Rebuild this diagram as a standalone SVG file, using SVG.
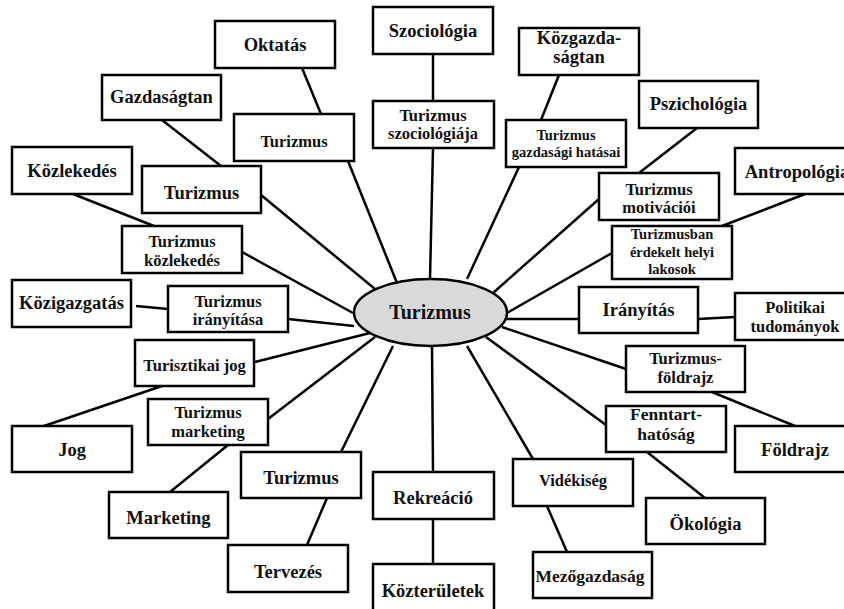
<svg xmlns="http://www.w3.org/2000/svg" width="844" height="609" viewBox="0 0 844 609">
<style>
.box{fill:#fff;stroke:#000;stroke-width:2.5}
.hub{fill:#d9d9d9;stroke:#000;stroke-width:2.5}
.c line{stroke:#000;stroke-width:2.5}
text{font-family:"Liberation Serif","Times New Roman",serif;font-weight:bold;text-anchor:middle;fill:#111}
.o{font-size:18.5px}
.i{font-size:16.5px}
.s{font-size:14.5px}
.m{font-size:17.5px}
.h{font-size:20px}
</style>
<rect width="844" height="609" fill="#fff"/>
<g id="connectors" class="c">
<line x1="433" y1="54" x2="433" y2="101"/>
<line x1="433" y1="148" x2="430" y2="279"/>
<line x1="559" y1="75" x2="541" y2="120"/>
<line x1="519" y1="167" x2="467" y2="279"/>
<line x1="697" y1="128" x2="639" y2="173"/>
<line x1="599" y1="199" x2="493" y2="293"/>
<line x1="805" y1="194" x2="722" y2="226"/>
<line x1="612" y1="253" x2="507" y2="313"/>
<line x1="506" y1="319" x2="579" y2="319"/>
<line x1="698" y1="319" x2="735" y2="317"/>
<line x1="502" y1="327" x2="626" y2="369"/>
<line x1="712" y1="392" x2="795" y2="426"/>
<line x1="486" y1="337" x2="606" y2="425"/>
<line x1="647" y1="452" x2="705" y2="498"/>
<line x1="467" y1="346" x2="533" y2="459"/>
<line x1="547" y1="506" x2="567" y2="552"/>
<line x1="432" y1="346" x2="433" y2="472"/>
<line x1="433" y1="519" x2="433" y2="564"/>
<line x1="393" y1="346" x2="341" y2="452"/>
<line x1="327" y1="498" x2="307" y2="545"/>
<line x1="375" y1="337" x2="268" y2="419"/>
<line x1="228" y1="445" x2="170" y2="492"/>
<line x1="370" y1="333" x2="255" y2="362"/>
<line x1="162" y1="386" x2="44" y2="426"/>
<line x1="354" y1="326" x2="288" y2="319"/>
<line x1="168" y1="309" x2="136" y2="306"/>
<line x1="353" y1="313" x2="242" y2="252"/>
<line x1="154" y1="226" x2="73" y2="194"/>
<line x1="375" y1="289" x2="261" y2="195"/>
<line x1="221" y1="166" x2="162" y2="120"/>
<line x1="397" y1="283" x2="348" y2="161"/>
<line x1="321" y1="114" x2="302" y2="68"/>
</g>
<g id="hub"><ellipse class="hub" cx="430.5" cy="312.5" rx="76.5" ry="33.5"/><text class="h" x="430" y="319">Turizmus</text></g>
<g id="szociologia"><rect class="box" x="373" y="7" width="120" height="47"/><text class="o" x="433" y="37">Szociológia</text></g>
<g id="oktatas"><rect class="box" x="215" y="21" width="120" height="47"/><text class="o" x="275" y="51">Oktatás</text></g>
<g id="kozgazdasagtan"><rect class="box" x="519" y="28" width="120" height="47"/><text class="o" x="579" y="44">Közgazda-</text><text class="o" x="579" y="63">ságtan</text></g>
<g id="gazdasagtan"><rect class="box" x="102" y="75" width="119" height="45"/><text class="o" x="161.5" y="103">Gazdaságtan</text></g>
<g id="pszichologia"><rect class="box" x="639" y="81" width="119" height="47"/><text class="o" x="698.5" y="110">Pszichológia</text></g>
<g id="kozlekedes"><rect class="box" x="12" y="147" width="120" height="47"/><text class="o" x="72" y="177">Közlekedés</text></g>
<g id="antropologia"><rect class="box" x="735" y="148" width="125" height="46"/><text class="o" x="797" y="178">Antropológia</text></g>
<g id="kozigazgatas"><rect class="box" x="12" y="280" width="119" height="47"/><text class="o" x="71.5" y="309">Közigazgatás</text></g>
<g id="politikai"><rect class="box" x="735" y="293" width="125" height="47"/><text class="i" x="795" y="313">Politikai</text><text class="i" x="795" y="332">tudományok</text></g>
<g id="jog"><rect class="box" x="12" y="426" width="120" height="46"/><text class="o" x="72" y="456">Jog</text></g>
<g id="foldrajz"><rect class="box" x="735" y="426" width="125" height="46"/><text class="o" x="795" y="456">Földrajz</text></g>
<g id="marketing"><rect class="box" x="109" y="492" width="119" height="46"/><text class="o" x="168.5" y="524">Marketing</text></g>
<g id="okologia"><rect class="box" x="646" y="498" width="119" height="46"/><text class="o" x="705.5" y="530">Ökológia</text></g>
<g id="tervezes"><rect class="box" x="228" y="545" width="120" height="47"/><text class="o" x="288" y="578">Tervezés</text></g>
<g id="mezogazdasag"><rect class="box" x="533" y="552" width="119" height="46"/><text class="m" x="590" y="582">Mezőgazdaság</text></g>
<g id="rekreacio"><rect class="box" x="373" y="472" width="121" height="47"/><text class="o" x="433" y="504">Rekreáció</text></g>
<g id="kozteruletek"><rect class="box" x="373" y="564" width="121" height="52"/><text class="o" x="433" y="597">Közterületek</text></g>
<g id="turizmus-szociologiaja"><rect class="box" x="373" y="101" width="121" height="47"/><text class="i" x="433" y="121">Turizmus</text><text class="i" x="433" y="139">szociológiája</text></g>
<g id="turizmus-oktatas"><rect class="box" x="234" y="114" width="120" height="47"/><text class="i" x="294" y="147">Turizmus</text></g>
<g id="turizmus-gazdasagi-hatasai"><rect class="box" x="506" y="120" width="120" height="47"/><text class="s" x="566" y="140">Turizmus</text><text class="s" x="566" y="157">gazdasági hatásai</text></g>
<g id="turizmus-gazdasagtan"><rect class="box" x="142" y="166" width="119" height="47"/><text class="o" x="201.5" y="199">Turizmus</text></g>
<g id="turizmus-motivacioi"><rect class="box" x="599" y="173" width="120" height="47"/><text class="i" x="659" y="195">Turizmus</text><text class="i" x="659" y="213">motivációi</text></g>
<g id="turizmus-kozlekedes"><rect class="box" x="122" y="226" width="120" height="47"/><text class="i" x="182" y="247">Turizmus</text><text class="i" x="182" y="266">közlekedés</text></g>
<g id="helyi-lakosok"><rect class="box" x="612" y="226" width="120" height="53"/><text class="s" x="672" y="239">Turizmusban</text><text class="s" x="672" y="257">érdekelt helyi</text><text class="s" x="672" y="274">lakosok</text></g>
<g id="turizmus-iranyitasa"><rect class="box" x="168" y="286" width="120" height="46"/><text class="i" x="228" y="307">Turizmus</text><text class="i" x="228" y="325">irányítása</text></g>
<g id="iranyitas"><rect class="box" x="579" y="287" width="119" height="46"/><text class="o" x="638.5" y="316">Irányítás</text></g>
<g id="turisztikai-jog"><rect class="box" x="135" y="340" width="119" height="46"/><text class="i" x="194.5" y="371">Turisztikai jog</text></g>
<g id="turizmus-foldrajz"><rect class="box" x="626" y="346" width="119" height="46"/><text class="i" x="685.5" y="364">Turizmus-</text><text class="i" x="685.5" y="383">földrajz</text></g>
<g id="turizmus-marketing"><rect class="box" x="148" y="399" width="120" height="46"/><text class="i" x="208" y="418">Turizmus</text><text class="i" x="208" y="437">marketing</text></g>
<g id="fenntarthatosag"><rect class="box" x="606" y="406" width="120" height="46"/><text class="m" x="666" y="420">Fenntart-</text><text class="m" x="666" y="440">hatóság</text></g>
<g id="turizmus-tervezes"><rect class="box" x="241" y="452" width="120" height="46"/><text class="o" x="301" y="484">Turizmus</text></g>
<g id="videkiseg"><rect class="box" x="513" y="459" width="120" height="47"/><text class="i" x="573" y="486">Vidékiség</text></g>
</svg>
